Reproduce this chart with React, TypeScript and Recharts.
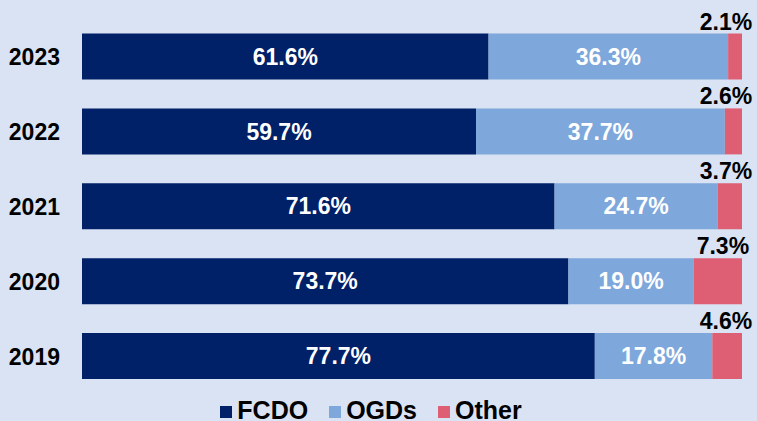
import React from 'react'
import { BarChart, Bar, XAxis, YAxis, Legend, LabelList } from 'recharts'

const years = ['2023', '2022', '2021', '2020', '2019']
const fcdo = [61.6, 59.7, 71.6, 73.7, 77.7]
const ogds = [36.3, 37.7, 24.7, 19.0, 17.8]
const other = [2.1, 2.6, 3.7, 7.3, 4.6]

const chartData = years.map((year, i) => ({
  year,
  FCDO: fcdo[i],
  OGDs: ogds[i],
  Other: other[i],
}))

const FONT = '"Liberation Sans", Arial, sans-serif'
const COLORS = { FCDO: '#002068', OGDs: '#7ea7db', Other: '#de5f73' }

const pct = (v: any) => `${Number(v).toFixed(1)}%`

const YearTick = ({ y, payload }: any) => (
  <text x={60} y={y} dy={8} textAnchor="end" fontSize={23} fontWeight="bold" fill="#000" fontFamily={FONT}>
    {payload.value}
  </text>
)

// "Other" values sit above the end of the bar
const OtherLabel = ({ x, y, width, value }: any) => {
  const cx = Math.min(x + width / 2 + 5, 726)
  return (
    <text x={cx} y={y - 4} textAnchor="middle" fontSize={23} fontWeight="bold" fill="#000" fontFamily={FONT}>
      {pct(value)}
    </text>
  )
}

const LegendContent = () => (
  <div style={{ display: 'flex', justifyContent: 'center', alignItems: 'flex-end', height: 27, fontFamily: FONT }}>
    {(['FCDO', 'OGDs', 'Other'] as const).map((k, i) => (
      <div key={k} style={{ display: 'flex', alignItems: 'flex-end', marginRight: i < 2 ? 21 : 0, position: 'relative', top: 1 }}>
        <span style={{ display: 'inline-block', width: 12, height: 12, background: COLORS[k], marginRight: 5, marginBottom: 4 }} />
        <span style={{ fontSize: 25, fontWeight: 'bold', lineHeight: '24px', color: '#000' }}>{k}</span>
      </div>
    ))}
  </div>
)

export default function App() {
  return (
    <div style={{ position: 'fixed', left: 0, top: 0, width: 757, height: 421, background: '#dae3f3', overflow: 'hidden' }}>
      <BarChart
        width={757}
        height={421}
        data={chartData}
        layout="vertical"
        margin={{ top: 19.5, right: 15, left: 0, bottom: 0 }}
        barSize={46}
      >
        <XAxis type="number" domain={[0, 100]} allowDataOverflow hide />
        <YAxis type="category" dataKey="year" width={82} axisLine={false} tickLine={false} tick={<YearTick />} />
        <Legend verticalAlign="bottom" height={27} content={<LegendContent />} />
        <Bar dataKey="FCDO" stackId="a" fill={COLORS.FCDO} isAnimationActive={false}>
          <LabelList dataKey="FCDO" position="center" formatter={pct} fill="#fff" fontSize={23} fontWeight="bold" fontFamily={FONT} />
        </Bar>
        <Bar dataKey="OGDs" stackId="a" fill={COLORS.OGDs} isAnimationActive={false}>
          <LabelList dataKey="OGDs" position="center" formatter={pct} fill="#fff" fontSize={23} fontWeight="bold" fontFamily={FONT} />
        </Bar>
        <Bar dataKey="Other" stackId="a" fill={COLORS.Other} isAnimationActive={false}>
          <LabelList dataKey="Other" content={<OtherLabel />} />
        </Bar>
      </BarChart>
    </div>
  )
}
